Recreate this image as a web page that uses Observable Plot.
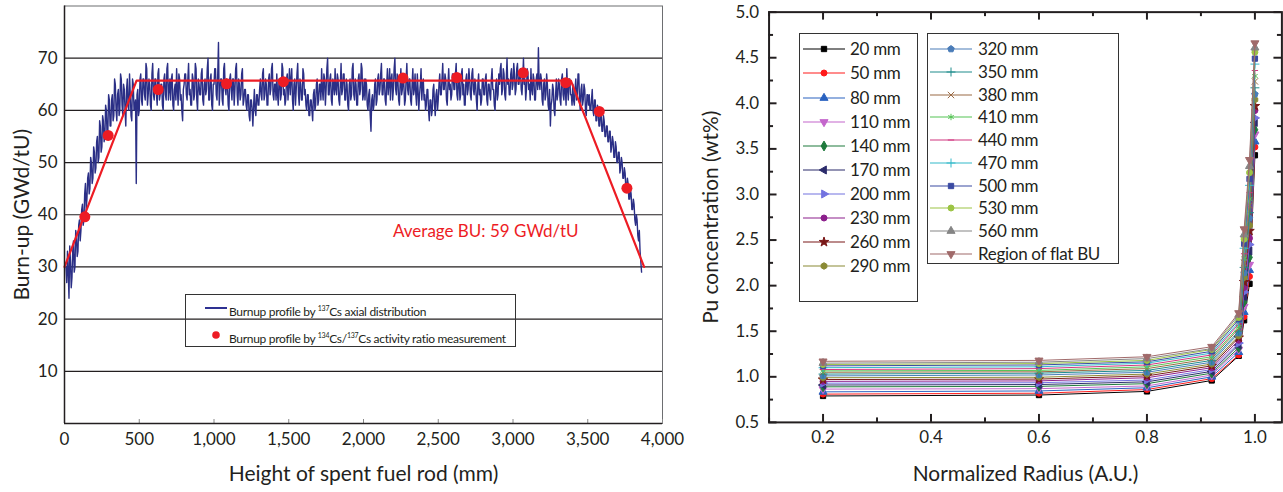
<!DOCTYPE html>
<html><head><meta charset="utf-8">
<script src="https://cdn.jsdelivr.net/npm/d3@7"></script>
<script src="https://cdn.jsdelivr.net/npm/@observablehq/plot@0.6"></script>
<style>
html,body{margin:0;padding:0;background:#fff;overflow:hidden;}
#wrap{position:relative;width:1283px;height:492px;font-family:Lato,"Open Sans",sans-serif;color:#231f20;overflow:hidden;}
.panel{position:absolute;top:0;}
.panel svg{overflow:visible;}
g[aria-label="x-axis label"] text, g[aria-label="y-axis label"] text{font-size:21px;}
.box{position:absolute;border:1px solid #333;box-sizing:border-box;}
.row{position:absolute;left:0;height:20px;line-height:20px;white-space:nowrap;}
.row svg{position:absolute;top:3px;overflow:visible;}
.row span{position:absolute;top:0;}
</style></head>
<body><div id="wrap"><div id="left" class="panel" style="left:0"></div><div id="right" class="panel" style="left:680px"></div></div>
<script>
// ---------- Left panel data ----------
const xTicksL = [0, 500, 1000, 1500, 2000, 2500, 3000, 3500, 4000];
const yTicksL = [10, 20, 30, 40, 50, 60, 70];
// burn-up by 137Cs axial scan, read every 5 mm starting at 10 mm (one row = 100 mm)
const buCs137 = [
 30,27,33,29,24,34,31,26,28,33,35,29,30,37,36,32,33,38,39,35,
 37,41,42,38,39,44,46,41,43,47,48,44,45,51,50,46,47,53,52,48,
 49,54,55,50,51,58,57,52,53,59,58,54,55,61,60,55,56,63,62,57,
 57,62,63,58,59,66,65,60,58,63,64,59,60,67,66,61,59,65,64,60,
 57,64,66,61,60,67,63,59,58,66,65,60,61,62,46,63,64,59,60,66,
 67,62,61,66,66,63,62,69,68,61,63,66,65,61,60,67,69,63,62,66,
 66,63,61,67,68,62,63,65,65,61,60,66,67,63,62,68,69,62,64,66,
 62,66,67,61,60,64,65,62,68,64,61,67,66,62,63,60,58,64,65,67,
 67,63,62,66,69,63,64,61,61,67,66,62,63,69,68,62,60,66,65,63,
 63,67,68,62,61,65,66,63,64,68,70,62,62,66,67,61,60,65,65,68,
 68,63,62,67,73,61,64,66,66,62,61,68,69,64,63,66,65,61,60,66,
 67,64,62,66,66,61,64,68,69,63,61,66,65,62,63,67,68,61,62,64,
 64,61,60,63,63,59,58,62,62,60,57,61,64,60,59,63,63,61,61,64,
 66,63,62,67,68,62,63,66,65,61,61,66,67,63,64,68,69,63,62,65,
 65,62,67,63,61,66,66,62,63,69,68,63,64,61,62,66,67,62,65,68,
 63,66,68,62,60,65,66,61,64,67,69,63,61,66,65,62,62,68,67,63,
 64,61,60,63,63,59,59,62,62,60,58,63,64,60,61,65,66,61,62,65,
 65,62,68,64,62,67,66,61,64,68,70,63,63,66,67,62,61,66,65,63,
 68,64,63,67,66,62,61,65,69,63,64,67,67,62,62,66,65,61,60,65,
 66,62,63,68,69,63,62,66,65,61,61,66,67,63,64,69,68,62,63,66,
 62,66,65,61,60,63,64,59,56,62,63,60,61,65,66,61,62,66,67,63,
 64,67,69,63,63,66,66,62,61,65,68,63,65,68,62,66,67,62,64,68,
 70,64,63,67,66,62,61,65,68,63,64,67,65,61,62,66,69,64,63,66,
 66,62,61,65,68,63,64,67,63,61,67,64,60,63,65,68,62,65,66,62,
 63,60,61,64,64,60,58,62,62,59,60,64,65,61,59,63,64,60,62,65,
 67,63,63,66,69,64,64,67,66,62,61,65,68,64,65,62,63,67,67,64,
 64,67,69,63,62,66,66,62,63,67,68,63,65,61,61,66,67,63,64,68,
 66,63,62,67,68,64,63,66,65,62,60,65,67,63,64,61,62,66,66,63,
 63,66,67,62,61,65,65,63,62,66,68,64,64,61,60,65,66,62,63,67,
 65,68,69,63,64,68,67,63,62,66,70,65,66,63,63,67,68,64,65,69,
 67,63,64,68,69,65,65,67,68,64,63,66,70,65,66,62,64,68,67,64,
 65,62,68,64,63,67,66,62,62,66,67,64,72,65,64,67,66,62,61,65,
 66,62,63,67,65,61,60,64,57,61,62,65,64,60,59,63,66,62,63,66,
 65,62,61,66,67,63,62,65,64,61,68,64,62,66,66,63,63,61,65,62,
 61,64,66,62,63,67,67,62,60,64,65,61,62,65,64,60,59,63,63,61,
 63,60,60,62,64,60,59,62,62,58,58,61,60,57,57,60,59,56,56,59,
 58,55,55,57,57,54,54,56,56,52,53,55,54,51,51,54,53,50,50,52,
 52,48,49,51,50,47,47,49,48,45,45,47,46,43,43,45,44,41,41,43,
 42,39,38,40,39,36,35,37,33,31,29
];
const scanStart = 10, scanStep = 5;
const ratioX = [136, 292, 627, 1084, 1464, 2264, 2624, 3068, 3353, 3577, 3762];
const ratioY = [39.6, 55.2, 64.0, 65.1, 65.5, 66.2, 66.3, 67.2, 65.3, 59.8, 45.1];
const trapX = [0, 482, 3387, 3877];
const trapY = [30, 65.7, 65.7, 30];
const annotText = "Average BU: 59 GWd/tU";
const annotX = 2818, annotY = 36.8;

// ---------- Right panel data ----------
const radii = [0.2, 0.6, 0.8, 0.92, 0.97, 0.98, 0.99, 1.0];
const seriesNames = ["20 mm","50 mm","80 mm","110 mm","140 mm","170 mm","200 mm","230 mm","260 mm","290 mm",
  "320 mm","350 mm","380 mm","410 mm","440 mm","470 mm","500 mm","530 mm","560 mm","Region of flat BU"];
const s20  = [0.79,0.80,0.84,0.96,1.23,1.62,2.02,3.43];
const s50  = [0.81,0.82,0.86,0.98,1.24,1.66,2.10,3.52];
const s80  = [0.835,0.845,0.88,1.00,1.27,1.71,2.17,3.58];
const s110 = [0.865,0.87,0.90,1.02,1.30,1.77,2.23,3.66];
const s140 = [0.89,0.895,0.925,1.04,1.32,1.82,2.31,3.71];
const s170 = [0.91,0.915,0.945,1.06,1.35,1.88,2.38,3.79];
const s200 = [0.93,0.935,0.965,1.08,1.37,1.93,2.45,3.84];
const s230 = [0.95,0.955,0.99,1.10,1.40,1.98,2.52,3.92];
const s260 = [0.97,0.975,1.01,1.12,1.43,2.04,2.60,3.97];
const s290 = [0.99,0.995,1.03,1.14,1.45,2.09,2.66,4.04];
const s320 = [1.01,1.02,1.05,1.16,1.48,2.14,2.74,4.10];
const s350 = [1.03,1.04,1.07,1.18,1.50,2.20,2.80,4.17];
const s380 = [1.05,1.055,1.09,1.20,1.53,2.25,2.88,4.24];
const s410 = [1.065,1.07,1.11,1.22,1.55,2.30,2.95,4.30];
const s440 = [1.08,1.09,1.13,1.24,1.58,2.35,3.02,4.36];
const s470 = [1.10,1.11,1.15,1.26,1.60,2.41,3.10,4.43];
const s500 = [1.12,1.13,1.165,1.28,1.63,2.46,3.17,4.49];
const s530 = [1.135,1.145,1.18,1.30,1.65,2.51,3.24,4.56];
const s560 = [1.15,1.16,1.20,1.31,1.68,2.56,3.31,4.61];
const sFlat = [1.17,1.18,1.22,1.33,1.70,2.62,3.38,4.66];
const seriesValues = [s20,s50,s80,s110,s140,s170,s200,s230,s260,s290,s320,s350,s380,s410,s440,s470,s500,s530,s560,sFlat];
const seriesColors = ["#000000","#ff1a1a","#2a62c0","#c466cc","#1f7a3c","#2b2b6b","#7373e0","#8c1f8c","#7a1818","#8a8a34",
  "#4a7cb8","#1f8c8c","#9a6a44","#55c455","#d0347f","#33b9c9","#3a4aa2","#9cc444","#858585","#a06a6a"];
const xMajorR = [0.2, 0.4, 0.6, 0.8, 1.0];
const xMinorR = [0.1, 0.3, 0.5, 0.7, 0.9];
const yMajorR = [0.5,1.0,1.5,2.0,2.5,3.0,3.5,4.0,4.5,5.0];
const yMinorR = [0.75,1.25,1.75,2.25,2.75,3.25,3.75,4.25,4.75];

// ---------- symbols ----------
function rotSym(type, deg){
  const a = deg*Math.PI/180, c = Math.cos(a), s = Math.sin(a);
  return {draw(ctx, size){
    const T = (x,y)=>[x*c - y*s, x*s + y*c];
    type.draw({moveTo:(x,y)=>ctx.moveTo(...T(x,y)), lineTo:(x,y)=>ctx.lineTo(...T(x,y)), closePath:()=>ctx.closePath()}, size);
  }};
}
function polySym(n){
  return {draw(ctx, size){
    const r = Math.sqrt(size/ (n*Math.sin(2*Math.PI/n)/2));
    for (let i=0;i<n;i++){ const a = -Math.PI/2 + i*2*Math.PI/n; const x=r*Math.cos(a), y=r*Math.sin(a); i?ctx.lineTo(x,y):ctx.moveTo(x,y);} ctx.closePath();
  }};
}
const dashSym = {draw(ctx,size){ const r = Math.sqrt(size)*0.6; ctx.moveTo(-r,0); ctx.lineTo(r,0);} };
const triDown = rotSym(d3.symbolTriangle, 180), triLeft = rotSym(d3.symbolTriangle, -90), triRight = rotSym(d3.symbolTriangle, 90);
const seriesSymbols = [d3.symbolSquare, d3.symbolCircle, d3.symbolTriangle, triDown, d3.symbolDiamond, triLeft, triRight, d3.symbolCircle, d3.symbolStar, polySym(6),
  polySym(5), d3.symbolPlus, d3.symbolTimes, d3.symbolAsterisk, dashSym, d3.symbolPlus, d3.symbolSquare, d3.symbolCircle, d3.symbolTriangle, triDown];
const strokeOnly = [false,false,false,false,false,false,false,false,false,false,false,true,true,true,true,true,false,false,false,false];

// ---------- Left chart ----------
const scan = buCs137.map((v,i)=>({h: scanStart + scanStep*i, bu: v}));
const ratio = ratioX.map((x,i)=>({h:x, bu:ratioY[i]}));
const trap = trapX.map((x,i)=>({h:x, bu:trapY[i]}));
const WL = 680, HL = 492, mL = {l:64, r:18, t:5.5, b:69};
const plotHL = HL - mL.t - mL.b;
const red = "#ed1c24";
const left = Plot.plot({
  width: WL, height: HL, marginLeft: mL.l, marginRight: mL.r, marginTop: mL.t, marginBottom: mL.b,
  x: {domain: [0, 4000]}, y: {domain: [0, 80]},
  style: {fontFamily: "Lato, 'Open Sans', sans-serif", fontSize: "17px", color: "#231f20", background: "transparent"},
  marks: [
    Plot.ruleY(yTicksL, {stroke: "#231f20", strokeWidth: 1.2}),
    Plot.frame({stroke: "#6d6e71", strokeWidth: 1}),
    Plot.tickX(xTicksL, {x: d=>d, insetTop: plotHL - 4, stroke: "#888", strokeWidth: 1}),
    Plot.axisX({ticks: xTicksL, tickSize: 0, tickPadding: 9, tickFormat: d3.format(","), label: "Height of spent fuel rod (mm)", labelAnchor: "center", labelOffset: 57, labelArrow: "none"}),
    Plot.axisY({ticks: yTicksL, tickSize: 0, tickPadding: 7, label: "Burn-up (GWd/tU)", labelAnchor: "center", labelOffset: 50, labelArrow: "none"}),
    Plot.line(scan, {x: "h", y: "bu", stroke: "#2b2f86", strokeWidth: 1.4}),
    Plot.line(trap, {x: "h", y: "bu", stroke: red, strokeWidth: 2.2}),
    Plot.dot(ratio, {x: "h", y: "bu", r: 5.5, fill: red}),
    Plot.ruleX([0], {stroke: "#231f20", strokeWidth: 1.5}),
    Plot.ruleY([0], {stroke: "#231f20", strokeWidth: 1.5}),
    Plot.text([annotText], {x: annotX, y: annotY, text: d=>d, fill: red, fontSize: 17, textAnchor: "middle"})
  ]
});
document.getElementById("left").appendChild(left);

// left legend
const legL = document.createElement("div");
legL.className = "box";
Object.assign(legL.style, {left: "185px", top: "294px", width: "331px", height: "53px", fontSize: "12px", letterSpacing: "-0.3px"});
legL.innerHTML = `
 <div class="row" style="top:3px;width:100%"><svg width="24" height="14" style="left:19px"><line x1="0" x2="22" y1="7" y2="7" stroke="#2e3192" stroke-width="2"/></svg>
 <span style="left:43px">Burnup profile by <sup style="font-size:7px">137</sup>Cs axial distribution</span></div>
 <div class="row" style="top:30px;width:100%"><svg width="24" height="14" style="left:19px"><circle cx="11" cy="7" r="3.8" fill="${red}"/></svg>
 <span style="left:43px">Burnup profile by <sup style="font-size:7px">134</sup>Cs/<sup style="font-size:7px">137</sup>Cs activity ratio measurement</span></div>`;
document.getElementById("wrap").appendChild(legL);

// ---------- Right chart ----------
const WR = 606, HR = 492, mR = {l:89, r:1.6, t:11.7, b:68};
const plotHR = HR - mR.t - mR.b, plotWR = WR - mR.l - mR.r;
const seriesMarks = [];
seriesValues.forEach((vals, k) => {
  const data = radii.map((r,i)=>({r, v: vals[i]}));
  const c = seriesColors[k];
  seriesMarks.push(Plot.line(data, {x: "r", y: "v", stroke: c, strokeWidth: 1}));
  seriesMarks.push(Plot.dot(data, {x: "r", y: "v", symbol: seriesSymbols[k], r: 3, fill: strokeOnly[k] ? "none" : c, stroke: c, strokeWidth: 1}));
});
const right = Plot.plot({
  width: WR, height: HR, marginLeft: mR.l, marginRight: mR.r, marginTop: mR.t, marginBottom: mR.b,
  x: {domain: [0.1, 1.05]}, y: {domain: [0.5, 5.0]},
  style: {fontFamily: "Lato, 'Open Sans', sans-serif", fontSize: "17px", color: "#231f20", background: "transparent"},
  marks: [
    ...seriesMarks,
    Plot.tickX(xMajorR, {x: d=>d, insetTop: plotHR - 8, stroke: "#231f20", strokeWidth: 2}),
    Plot.tickX(xMinorR, {x: d=>d, insetTop: plotHR - 4.5, stroke: "#231f20", strokeWidth: 2}),
    Plot.tickX(xMajorR, {x: d=>d, insetBottom: plotHR - 8, stroke: "#231f20", strokeWidth: 2}),
    Plot.tickX(xMinorR, {x: d=>d, insetBottom: plotHR - 4.5, stroke: "#231f20", strokeWidth: 2}),
    Plot.tickY(yMajorR, {y: d=>d, insetRight: plotWR - 8, stroke: "#231f20", strokeWidth: 2}),
    Plot.tickY(yMinorR, {y: d=>d, insetRight: plotWR - 4.5, stroke: "#231f20", strokeWidth: 2}),
    Plot.tickY(yMajorR, {y: d=>d, insetLeft: plotWR - 8, stroke: "#231f20", strokeWidth: 2}),
    Plot.tickY(yMinorR, {y: d=>d, insetLeft: plotWR - 4.5, stroke: "#231f20", strokeWidth: 2}),
    Plot.frame({stroke: "#231f20", strokeWidth: 2}),
    Plot.axisX({ticks: xMajorR, tickSize: 0, tickPadding: 9, tickFormat: ".1f", label: "Normalized Radius (A.U.)", labelAnchor: "center", labelOffset: 59, labelArrow: "none"}),
    Plot.axisY({ticks: yMajorR, tickSize: 0, tickPadding: 10, tickFormat: ".1f", label: "Pu concentration (wt%)", labelAnchor: "center", labelOffset: 66, labelArrow: "none"})
  ]
});
document.getElementById("right").appendChild(right);

// right legends
function makeBox(leftPx, topPx, w, h, items, y0, dy, lineX0, lineX1, textX){
  const box = document.createElement("div");
  box.className = "box";
  Object.assign(box.style, {left: leftPx+"px", top: topPx+"px", width: w+"px", height: h+"px", fontSize: "17px", letterSpacing: "-0.3px"});
  items.forEach((k, i) => {
    const row = document.createElement("div");
    row.className = "row";
    row.style.top = (y0 + dy*i - 10) + "px";
    row.style.width = "100%";
    const c = seriesColors[k];
    const path = d3.symbol(seriesSymbols[k], Math.PI*9)();
    const mx = (lineX0 + lineX1)/2;
    row.innerHTML = `<svg width="${lineX1}" height="14" style="left:0"><line x1="${lineX0}" x2="${lineX1}" y1="7" y2="7" stroke="${c}" stroke-width="1.2"/>
      <path d="${path}" transform="translate(${mx},7)" fill="${strokeOnly[k] ? "none" : c}" stroke="${c}" stroke-width="1"/></svg>
      <span style="left:${textX}px">${seriesNames[k]}</span>`;
    box.appendChild(row);
  });
  document.getElementById("wrap").appendChild(box);
}
makeBox(799, 33, 119, 269, d3.range(0,10), 15.3, 24.1, 3, 45, 50);
makeBox(927, 33, 192, 231, d3.range(10,20), 15.3, 22.7, 2, 44, 50);
</script></body></html>
